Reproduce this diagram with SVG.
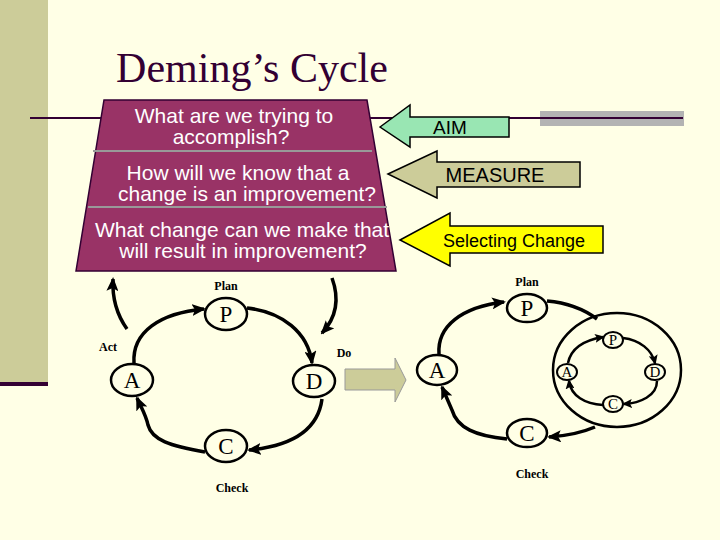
<svg xmlns="http://www.w3.org/2000/svg" width="720" height="540" viewBox="0 0 720 540">
<defs>
<style>
.q{font-family:"Liberation Sans",Arial,sans-serif;font-size:21px;fill:#ffffff;text-anchor:middle}
.lbl{font-family:"Liberation Sans",Arial,sans-serif;fill:#000;text-anchor:middle}
.big{fill:none;stroke:#000;stroke-width:2.5}
.sm{fill:none;stroke:#000;stroke-width:2}
.let{font-family:"Liberation Serif","Times New Roman",serif;font-size:23px;fill:#000;text-anchor:middle}
.slet{font-family:"Liberation Serif","Times New Roman",serif;font-size:15px;fill:#000;text-anchor:middle}
.ph{font-family:"Liberation Serif","Times New Roman",serif;font-size:12px;font-weight:bold;fill:#000;text-anchor:middle}
.arc{fill:none;stroke:#000;stroke-width:3.5}
.sarc{fill:none;stroke:#000;stroke-width:2.5}
.ba{stroke:#000;stroke-width:1.5}
</style>
<marker id="ah" markerUnits="userSpaceOnUse" markerWidth="14" markerHeight="12" refX="12" refY="6" orient="auto"><path d="M0,0 L14,6 L0,12 L3,6 Z" fill="#000"/></marker>
<marker id="sah" markerUnits="userSpaceOnUse" markerWidth="10" markerHeight="9" refX="8" refY="4.5" orient="auto"><path d="M0,0 L10,4.5 L0,9 L2,4.5 Z" fill="#000"/></marker>
</defs>
<rect width="720" height="540" fill="#FFFFE6"/>
<rect x="0" y="0" width="48" height="382" fill="#CCCC99"/>
<rect x="0" y="382" width="48" height="4" fill="#330033"/>
<rect x="540" y="111" width="144" height="15" fill="#B3B3B3"/>
<line x1="30" y1="118" x2="683" y2="118" stroke="#330033" stroke-width="2"/>
<text x="252" y="82" font-family="'Liberation Serif','Times New Roman',serif" font-size="42" fill="#330033" text-anchor="middle">Deming’s Cycle</text>

<g id="questions">
<polygon points="104,100 367,100 396,271 76,271" fill="#993366" stroke="#330033" stroke-width="1.5"/>
<line x1="93" y1="151" x2="372" y2="151" stroke="#999999" stroke-width="2"/>
<line x1="88" y1="207" x2="387" y2="207" stroke="#999999" stroke-width="2"/>
<text class="q" x="234" y="123">What are we trying to</text>
<text class="q" x="231" y="144">accomplish?</text>
<text class="q" x="238" y="180">How will we know that a</text>
<text class="q" x="247" y="201">change is an improvement?</text>
<text class="q" x="242" y="237">What change can we make that</text>
<text class="q" x="243" y="258">will result in improvement?</text>
</g>

<g id="aim">
<polygon class="ba" points="380,127 410,105 410,117 509,117 509,137 410,137 410,147" fill="#99E6B3"/>
<text class="lbl" x="450" y="134" font-size="19">AIM</text>
</g>
<g id="measure">
<polygon class="ba" points="388,174 437,151 437,162 580,162 580,187 437,187 437,198" fill="#CCCC99"/>
<text class="lbl" x="495" y="182" font-size="20">MEASURE</text>
</g>
<g id="selecting">
<polygon class="ba" points="400,240 450,213 450,226 603,226 603,253 450,253 450,266" fill="#FFFF00"/>
<text class="lbl" x="514" y="247" font-size="18">Selecting Change</text>
</g>

<g id="transition">
<polygon points="345,369 395,369 395,358 406,380 395,402 395,390 345,390" fill="#CCCC99" stroke="#999999" stroke-width="1"/>
</g>

<g id="left-P"><ellipse class="big" cx="226" cy="314" rx="21" ry="16"/><text class="let" x="226" y="322">P</text><text class="ph" x="226" y="290">Plan</text></g>
<g id="left-D"><ellipse class="big" cx="314" cy="381" rx="21" ry="16"/><text class="let" x="314" y="389">D</text><text class="ph" x="344" y="357">Do</text></g>
<g id="left-A"><ellipse class="big" cx="132" cy="380" rx="21" ry="16"/><text class="let" x="132" y="388">A</text><text class="ph" x="108" y="351">Act</text></g>
<g id="left-C"><ellipse class="big" cx="226" cy="446" rx="21" ry="16"/><text class="let" x="226" y="454">C</text><text class="ph" x="232" y="492">Check</text></g>

<g id="right-P"><ellipse class="big" cx="527" cy="308" rx="20" ry="14"/><text class="let" x="527" y="316">P</text><text class="ph" x="527" y="286">Plan</text></g>
<g id="right-A"><ellipse class="big" cx="437" cy="370" rx="20" ry="15"/><text class="let" x="437" y="378">A</text></g>
<g id="right-C"><ellipse class="big" cx="527" cy="433" rx="20" ry="14"/><text class="let" x="527" y="441">C</text><text class="ph" x="532" y="478">Check</text></g>
<g id="inner-cycle"><ellipse fill="none" stroke="#000" stroke-width="2.5" cx="617" cy="370" rx="64" ry="57"/></g>
<g id="small-P"><ellipse class="sm" cx="613" cy="340" rx="10" ry="8"/><text class="slet" x="613" y="345">P</text></g>
<g id="small-A"><ellipse class="sm" cx="567" cy="372" rx="10" ry="8"/><text class="slet" x="567" y="377">A</text></g>
<g id="small-D"><ellipse class="sm" cx="655" cy="372" rx="10" ry="8"/><text class="slet" x="655" y="377">D</text></g>
<g id="small-C"><ellipse class="sm" cx="613" cy="404" rx="10" ry="8"/><text class="slet" x="613" y="409">C</text></g>

<g id="connectors">
<path class="arc" stroke-width="4.5" d="M134,363 C132,332 160,313 204,309" marker-end="url(#ah)"/>
<path class="arc" d="M247,308 C282,312 308,332 312,363" marker-end="url(#ah)"/>
<path class="arc" d="M322,399 C318,430 292,446 249,450" marker-end="url(#ah)"/>
<path class="arc" d="M205,452 C170,446 152,440 148,425 C146,415 141,407 137,398" marker-end="url(#ah)"/>
<path class="arc" d="M127,329 C117,315 112,300 113,279" marker-end="url(#ah)"/>
<path class="arc" d="M332,278 C340,300 336,318 322,333" marker-end="url(#ah)"/>

<path class="arc" stroke-width="4.5" d="M439,354 C437,326 462,307 504,302" marker-end="url(#ah)"/>
<path class="arc" d="M547,301 C570,303 585,310 597,319"/>
<path class="arc" d="M595,427 C581,433 566,436 549,437" marker-end="url(#ah)"/>
<path class="arc" d="M507,439 C476,436 457,428 452,410 L442,387" marker-end="url(#ah)"/>

<path class="sarc" stroke-width="3.5" d="M568,363 C571,348 585,340 603,337" marker-end="url(#sah)"/>
<path class="sarc" d="M623,338 C640,340 652,350 655,363" marker-end="url(#sah)"/>
<path class="sarc" d="M657,381 C657,396 640,403 624,404" marker-end="url(#sah)"/>
<path class="sarc" d="M603,405 C585,404 571,396 569,381" marker-end="url(#sah)"/>
</g>
</svg>
